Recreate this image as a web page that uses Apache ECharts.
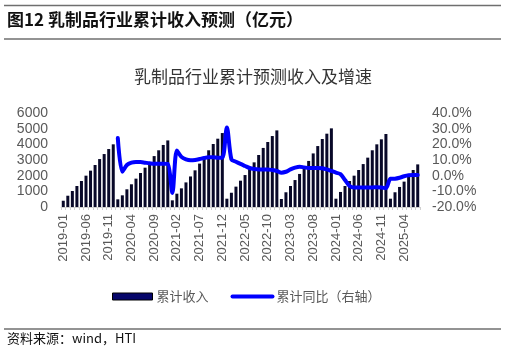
<!DOCTYPE html>
<html>
<head>
<meta charset="utf-8">
<script src="https://cdn.jsdelivr.net/npm/echarts@6/dist/echarts.min.js"></script>
<style>
html,body{margin:0;padding:0;background:#fff;}
#c{width:506px;height:353px;}
</style>
</head>
<body>
<div id="c"></div>
<script>
var categories = [];
(function(){
  for (var y = 2019; y <= 2025; y++) {
    for (var m = 1; m <= 12; m++) {
      if (y === 2025 && m > 7) break;
      categories.push(y + '-' + (m < 10 ? '0' + m : '' + m));
    }
  }
})();

var revenue2019 = [400, 720, 1020, 1340, 1660, 2000, 2320, 2680, 3060, 3380, 3700, 4000];
var revenue2020 = [490, 745, 1130, 1450, 1810, 2170, 2510, 2870, 3250, 3620, 3960, 4250];
var revenue2021 = [425, 850, 1190, 1570, 1950, 2340, 2770, 3170, 3620, 4020, 4360, 4720];
var revenue2022 = [530, 910, 1300, 1680, 2040, 2420, 2850, 3320, 3770, 4150, 4530, 4890];
var revenue2023 = [510, 940, 1340, 1720, 2110, 2510, 2940, 3420, 3890, 4340, 4680, 5020];
var revenue2024 = [530, 960, 1340, 1660, 2000, 2360, 2740, 3150, 3620, 4000, 4320, 4660];
var revenue2025 = [530, 940, 1280, 1620, 1980, 2360, 2720];

var yoy2019 = [null, null, null, null, null, null, null, null, null, null, null, null];
var yoy2020 = [24, 2.5, 6.8, 8.3, 8.7, 8.7, 8.3, 7.9, 7.6, 7.6, 7.6, 7.5];
var yoy2021 = [-11, 16, 12, 10.4, 9.8, 10, 10.6, 11.3, 11.7, 11.7, 11.5, 11.5];
var yoy2022 = [30.8, 10.4, 8.9, 7.5, 6.2, 4.9, 4.3, 4, 4, 4, 3.6, 3];
var yoy2023 = [1.9, 2.5, 4, 5.1, 5.7, 5.3, 4.9, 4.9, 4.9, 4.7, 4, 3];
var yoy2024 = [1.9, 1, -2.8, -6.6, -7.6, -7.6, -7.5, -7.5, -7.5, -7.4, -7.5, -8];
var yoy2025 = [-2, -1.9, -1.3, -0.4, 0.2, 0.4, 0.4];

var leftTicks = {min: 0, max: 6000, interval: 1000};
var rightTicks = {min: -20, max: 40, interval: 10};

var revenue = [].concat(revenue2019, revenue2020, revenue2021, revenue2022, revenue2023, revenue2024, revenue2025);
var yoy = [].concat(yoy2019, yoy2020, yoy2021, yoy2022, yoy2023, yoy2024, yoy2025);

var FONT = '"Noto Sans CJK SC", "Liberation Sans", sans-serif';
var chart = echarts.init(document.getElementById('c'));
chart.setOption({
  backgroundColor: '#fff',
  animation: false,
  textStyle: {fontFamily: FONT},
  title: {
    text: '乳制品行业累计预测收入及增速',
    left: 'center',
    top: 63,
    textStyle: {fontSize: 17, fontWeight: 'normal', color: '#333', fontFamily: FONT}
  },
  graphic: [
    {type: 'line', shape: {x1: 4, y1: 5.5, x2: 501, y2: 5.5}, style: {stroke: '#6f6f6f', lineWidth: 1.5}},
    {type: 'line', shape: {x1: 4, y1: 39, x2: 501, y2: 39}, style: {stroke: '#6f6f6f', lineWidth: 1.5}},
    {type: 'text', left: 7, top: 11, style: {text: '图12 乳制品行业累计收入预测（亿元）', font: 'bold 17px "Noto Sans CJK SC", sans-serif', fill: '#111'}},
    {type: 'line', shape: {x1: 4, y1: 329, x2: 501, y2: 329}, style: {stroke: '#6f6f6f', lineWidth: 1.5}},
    {type: 'text', left: 7, top: 332, style: {text: '资料来源：wind，HTI', font: '13px "Noto Sans CJK SC", sans-serif', fill: '#111'}}
  ],
  legend: {
    left: 107,
    top: 285,
    itemWidth: 40,
    itemHeight: 7,
    itemGap: 22,
    textStyle: {fontSize: 13, color: '#595959', fontFamily: FONT, padding: [0, 0, 0, -1]},
    data: [
      {name: '累计收入', icon: 'rect', itemStyle: {color: '#06066a', borderColor: '#000', borderWidth: 1}},
      {name: '累计同比（右轴）', itemStyle: {opacity: 0}, lineStyle: {width: 4, color: '#0000ff', cap: 'round'}}
    ]
  },
  grid: {left: 61, right: 86, top: 113, bottom: 146},
  xAxis: {
    type: 'category',
    data: categories,
    axisLine: {lineStyle: {color: '#d0d0d0'}},
    axisTick: {show: true, interval: 0, length: 3, lineStyle: {color: '#d0d0d0'}},
    axisLabel: {interval: 4, rotate: 90, fontSize: 13, color: '#595959', margin: 7, fontFamily: '"Liberation Sans", sans-serif'}
  },
  yAxis: [
    {
      type: 'value', min: leftTicks.min, max: leftTicks.max, interval: leftTicks.interval,
      splitLine: {show: false}, axisLine: {show: false}, axisTick: {show: false},
      axisLabel: {fontSize: 14, color: '#595959', margin: 13, fontFamily: '"Liberation Sans", sans-serif',
        formatter: function (v) { return String(v); }}
    },
    {
      type: 'value', min: rightTicks.min, max: rightTicks.max, interval: rightTicks.interval,
      splitLine: {show: false}, axisLine: {show: false}, axisTick: {show: false},
      axisLabel: {fontSize: 14, color: '#595959', margin: 12, fontFamily: '"Liberation Sans", sans-serif',
        formatter: function (v) { return v.toFixed(1) + '%'; }}
    }
  ],
  series: [
    {
      name: '累计收入', type: 'bar', data: revenue, yAxisIndex: 0,
      barWidth: 3,
      itemStyle: {color: '#080828'}
    },
    {
      name: '累计同比（右轴）', type: 'line', data: yoy, yAxisIndex: 1,
      symbol: 'none', smooth: 0.3, connectNulls: false,
      lineStyle: {color: '#0000ff', width: 4, cap: 'round'},
      itemStyle: {color: '#0000ff'}
    }
  ]
});
</script>
</body>
</html>
